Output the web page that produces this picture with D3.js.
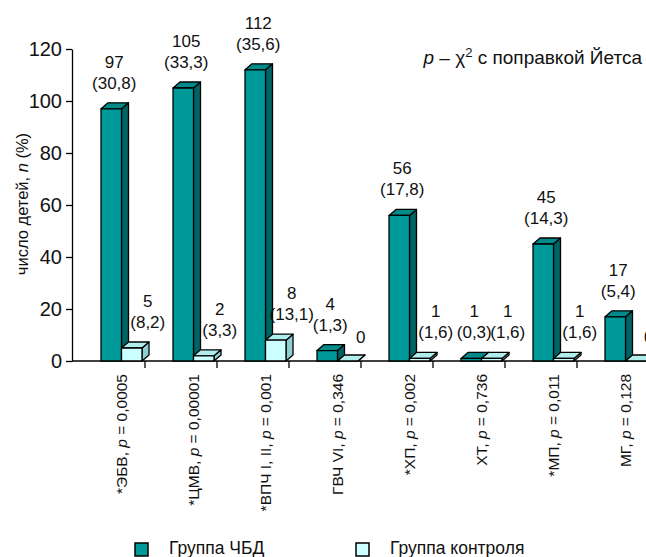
<!DOCTYPE html>
<html>
<head>
<meta charset="utf-8">
<script src="https://cdn.jsdelivr.net/npm/d3@7/dist/d3.min.js"></script>
<style>
  html, body { margin: 0; padding: 0; background: #fff; }
  svg { display: block; font-family: "Liberation Sans", Arial, sans-serif; }
</style>
</head>
<body>
<svg id="chart" width="646" height="557"></svg>
<script>
// ---- data ----
const catNames = ["*ЭБВ", "*ЦМВ", "*ВПЧ I, II", "ГВЧ VI", "*ХП", "ХТ", "*МП", "МГ"];
const pValues = ["0,0005", "0,00001", "0,001", "0,346", "0,002", "0,736", "0,011", "0,128"];
const seriesNames = ["Группа ЧБД", "Группа контроля"];
const chbdValues = [97, 105, 112, 4, 56, 1, 45, 17];
const chbdPct = ["30,8", "33,3", "35,6", "1,3", "17,8", "0,3", "14,3", "5,4"];
const ctrlValues = [5, 2, 8, 0, 1, 1, 1, 0];
const ctrlPct = ["8,2", "3,3", "13,1", "", "1,6", "1,6", "1,6", ""];
const yTicks = [0, 20, 40, 60, 80, 100, 120];

// ---- styles ----
const colChbd = { front: "#009999", side: "#006464", top: "#008a8a" };
const colCtrl = { front: "#ccffff", side: "#8fcfcf", top: "#b0eeee" };
const dx = 7, dy = 6, barW = 20.5, barOff = 28;

const svg = d3.select("#chart");
const y = d3.scaleLinear().domain([0, 120]).range([361, 49]);
const x = d3.scaleBand().domain(catNames).range([73, 649]).padding(0);

// y axis
const yAxis = svg.append("g").attr("transform", "translate(72,0)")
  .call(d3.axisLeft(y).tickValues(yTicks).tickSize(6).tickSizeOuter(0).tickPadding(4));
yAxis.select(".domain").attr("stroke", "#000").attr("stroke-width", 1.3);
yAxis.selectAll(".tick line").attr("stroke", "#000").attr("stroke-width", 1.3);
yAxis.selectAll(".tick text").attr("font-size", 20).attr("font-family", "Liberation Sans, Arial, sans-serif").attr("fill", "#111");

// x axis line and boundary ticks
const xAxis = svg.append("g").attr("transform", "translate(0,361)")
  .call(d3.axisBottom(x).tickSize(0).tickSizeOuter(0).tickFormat(""));
xAxis.select(".domain").attr("d", "M72,0H646").attr("stroke", "#000").attr("stroke-width", 1.3);
xAxis.selectAll(".tick").remove();
svg.append("g").selectAll("line").data(catNames.slice(1)).join("line")
  .attr("x1", d => x(d)).attr("x2", d => x(d))
  .attr("y1", 361).attr("y2", 368)
  .attr("stroke", "#000").attr("stroke-width", 1.3);

// 3D box
function box(g, x0, v, col) {
  const yt = y(v), yb = y(0);
  g.append("path")
    .attr("d", `M${x0 + barW},${yt}L${x0 + barW + dx},${yt - dy}L${x0 + barW + dx},${yb - dy}L${x0 + barW},${yb}Z`)
    .attr("fill", col.side);
  g.append("path")
    .attr("d", `M${x0},${yt}L${x0 + dx},${yt - dy}L${x0 + barW + dx},${yt - dy}L${x0 + barW},${yt}Z`)
    .attr("fill", col.top);
  g.append("rect").attr("x", x0).attr("y", yt).attr("width", barW).attr("height", yb - yt)
    .attr("fill", col.front);
  g.selectAll("path, rect").attr("stroke", "#000").attr("stroke-width", 1.3).attr("stroke-linejoin", "round");
}

const bars = svg.append("g");
catNames.forEach((c, i) => {
  const g = bars.append("g");
  const x0 = x(c) + barOff;
  box(g.append("g"), x0, chbdValues[i], colChbd);
  box(g.append("g"), x0 + barW, ctrlValues[i], colCtrl);
});

// value labels
function label(cx, v, pct) {
  const base = y(v) - 20;
  const t = svg.append("text").attr("text-anchor", "middle").attr("font-size", 17).attr("fill", "#111");
  if (pct) {
    t.append("tspan").attr("x", cx).attr("y", base - 21).text(v);
    t.append("tspan").attr("x", cx).attr("y", base).text("(" + pct + ")");
  } else {
    t.append("tspan").attr("x", cx).attr("y", y(v) - 18).text(v);
  }
}
catNames.forEach((c, i) => {
  const x0 = x(c) + barOff;
  label(x0 + barW / 2 + 3, chbdValues[i], chbdPct[i]);
  label(x0 + barW * 1.5 + (ctrlPct[i] ? 16 : 13), ctrlValues[i], ctrlPct[i]);
});

// category labels (rotated)
catNames.forEach((c, i) => {
  const cx = x(c) + barOff + barW;
  const t = svg.append("text")
    .attr("transform", `translate(${cx},374) rotate(-90)`)
    .attr("text-anchor", "end").attr("dy", "0.35em")
    .attr("font-size", 15.5).attr("fill", "#111");
  t.append("tspan").text(c + ", ");
  t.append("tspan").attr("font-style", "italic").text("p");
  t.append("tspan").text(" = " + pValues[i]);
});

// y title
const yt = svg.append("text")
  .attr("transform", "translate(22,204) rotate(-90)")
  .attr("text-anchor", "middle").attr("dy", "0.35em")
  .attr("font-size", 16.5).attr("fill", "#111");
yt.append("tspan").text("число детей, ");
yt.append("tspan").attr("font-style", "italic").text("n");
yt.append("tspan").text(" (%)");

// annotation
const an = svg.append("text").attr("x", 642).attr("y", 64).attr("text-anchor", "end")
  .attr("font-size", 19).attr("fill", "#111");
an.append("tspan").attr("font-style", "italic").text("p");
an.append("tspan").text(" – χ");
an.append("tspan").attr("font-size", 13).attr("dy", -7).text("2");
an.append("tspan").attr("dy", 7).text(" с поправкой Йетса");

// legend
const legX = [135, 356];
const leg = svg.append("g");
seriesNames.forEach((s, i) => {
  const col = i === 0 ? colChbd : colCtrl;
  leg.append("rect").attr("x", legX[i]).attr("y", 543).attr("width", 13).attr("height", 13)
    .attr("fill", col.front).attr("stroke", "#000").attr("stroke-width", 1.5);
  leg.append("text").attr("x", legX[i] + 34).attr("y", 554).attr("font-size", 17.5)
    .attr("fill", "#111").text(s);
});
</script>
</body>
</html>
